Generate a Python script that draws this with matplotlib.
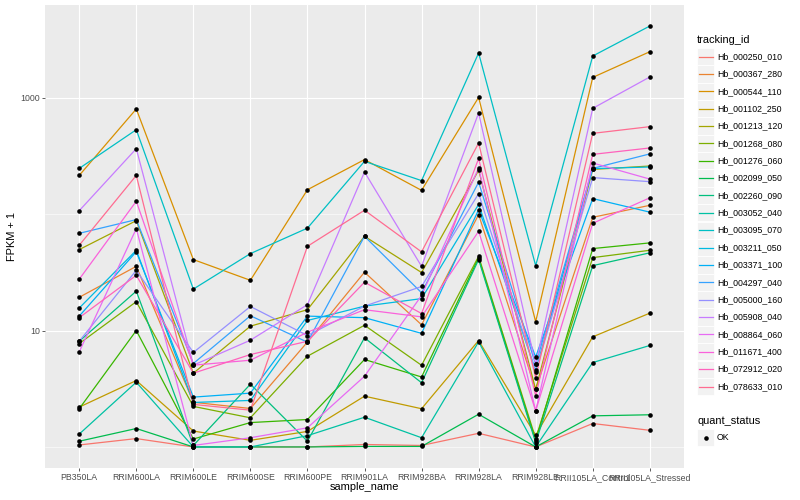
import matplotlib
matplotlib.use('Agg')
import matplotlib.pyplot as plt
from matplotlib.lines import Line2D
from matplotlib.patches import Rectangle
from matplotlib.ticker import NullLocator
import numpy as np

plt.rcParams['font.family'] = ['Liberation Sans', 'DejaVu Sans']

samples = ['PB350LA', 'RRIM600LA', 'RRIM600LE', 'RRIM600SE', 'RRIM600PE',
           'RRIM901LA', 'RRIM928BA', 'RRIM928LA', 'RRIM928LE',
           'RRII105LA_Control', 'RRII105LA_Stressed']

tracking_ids = ['Hb_000250_010', 'Hb_000367_280', 'Hb_000544_110', 'Hb_001102_250',
                'Hb_001213_120', 'Hb_001268_080', 'Hb_001276_060', 'Hb_002099_050',
                'Hb_002260_090', 'Hb_003052_040', 'Hb_003095_070', 'Hb_003211_050',
                'Hb_003371_100', 'Hb_004297_040', 'Hb_005000_160', 'Hb_005908_040',
                'Hb_008864_060', 'Hb_011671_400', 'Hb_072912_020', 'Hb_078633_010']

colors = ['#F8766D', '#EA8331', '#D89000', '#C09B00', '#A3A500', '#7CAE00',
          '#39B600', '#00BB4E', '#00BF7D', '#00C1A3', '#00BFC4', '#00BAE0',
          '#00B0F6', '#35A2FF', '#9590FF', '#C77CFF', '#E76BF3', '#FA62DB',
          '#FF62BC', '#FF6C91']

# FPKM + 1 per sample (order of `samples`)
hb_000250_010 = [1.04, 1.18, 1.0, 1.0, 1.0, 1.05, 1.03, 1.31, 1.0, 1.59, 1.39]
hb_000367_280 = [19.3, 35.6, 2.42, 2.14, 7.97, 31.7, 11.2, 99.0, 3.12, 93.9, 119]
hb_000544_110 = [215, 800, 40.7, 27.0, 162, 294, 160, 1006, 11.9, 1494, 2483]
hb_001102_250 = [2.2, 3.72, 1.37, 1.14, 1.36, 2.73, 2.13, 8.21, 1.26, 8.83, 14.1]
hb_001213_120 = [49.6, 87.9, 4.3, 10.9, 15.1, 64.5, 31.5, 238, 3.12, 242, 259]
hb_001268_080 = [7.73, 17.7, 2.23, 1.78, 6.02, 11.1, 5.03, 43.4, 1.18, 42.3, 48.9]
hb_001276_060 = [2.13, 10.0, 1.17, 1.62, 1.72, 5.64, 3.99, 42.1, 1.13, 50.6, 56.6]
hb_002099_050 = [1.12, 1.44, 1.0, 1.0, 1.0, 1.01, 1.01, 1.91, 1.0, 1.85, 1.89]
hb_002260_090 = [8.09, 21.8, 1.03, 3.46, 1.12, 8.66, 3.56, 40.7, 1.09, 36.1, 46.5]
hb_003052_040 = [1.29, 3.6, 1.0, 1.0, 1.25, 1.8, 1.2, 8.0, 1.0, 5.31, 7.44]
hb_003095_070 = [247, 531, 22.7, 45.8, 75.8, 284, 194, 2420, 36.1, 2280, 4126]
hb_003211_050 = [15.6, 48.9, 2.41, 2.51, 12.2, 16.2, 18.8, 121, 4.54, 246, 254]
hb_003371_100 = [13.3, 47.6, 2.68, 2.90, 13.3, 12.9, 9.46, 109, 5.92, 136, 104]
hb_004297_040 = [68.4, 89.7, 5.21, 13.4, 7.94, 64.5, 21.1, 188, 5.11, 247, 329]
hb_005000_160 = [8.09, 32.9, 6.48, 16.1, 9.06, 16.2, 23.9, 150, 4.42, 206, 190]
hb_005908_040 = [107, 365, 5.04, 8.26, 16.7, 230, 35.6, 739, 5.11, 810, 1506]
hb_008864_060 = [6.56, 75.1, 1.03, 1.20, 1.46, 4.05, 20.0, 249, 2.04, 275, 200]
hb_011671_400 = [27.6, 129, 5.04, 5.56, 9.67, 15.1, 13.1, 71.2, 2.04, 83.4, 138]
hb_072912_020 = [12.9, 29.8, 4.3, 6.22, 8.09, 26.0, 14.0, 301, 2.75, 326, 370]
hb_078633_010 = [54.0, 215, 2.32, 2.07, 52.9, 108, 47.4, 408, 3.93, 494, 564]

series = [hb_000250_010, hb_000367_280, hb_000544_110, hb_001102_250,
          hb_001213_120, hb_001268_080, hb_001276_060, hb_002099_050,
          hb_002260_090, hb_003052_040, hb_003095_070, hb_003211_050,
          hb_003371_100, hb_004297_040, hb_005000_160, hb_005908_040,
          hb_008864_060, hb_011671_400, hb_072912_020, hb_078633_010]

y_ticks = [10, 1000]
y_tick_labels = ['10', '1000']
y_minor = [1, 100]

W, H = 800, 500
fig = plt.figure(figsize=(8, 5), dpi=100)
L, R, T, B = 45, 684, 5, 468
ax = fig.add_axes([L / W, 1 - B / H, (R - L) / W, (B - T) / H])
ax.set_facecolor('#EBEBEB')

x = np.arange(len(samples))
for vals, col in zip(series, colors):
    ax.plot(x, vals, color=col, lw=0.9, zorder=3, solid_capstyle='butt')
for vals in series:
    ax.plot(x, vals, linestyle='none', marker='o', color='black',
            ms=3.3, mec='none', zorder=4)

ax.set_yscale('log')
allv = np.concatenate([np.asarray(s, float) for s in series])
lo, hi = np.log10(allv.min()), np.log10(allv.max())
pad = (hi - lo) * 0.05
ax.set_ylim(10 ** (lo - pad), 10 ** (hi + pad))
ax.set_xlim(-0.6, len(samples) - 1 + 0.6)

ax.set_yticks(y_ticks)
ax.set_yticklabels(y_tick_labels)
ax.yaxis.set_minor_locator(NullLocator())
ax.set_xticks(x)
ax.set_xticklabels(samples)

for v in y_minor:
    ax.axhline(v, color='white', lw=0.4, zorder=1)
for v in y_ticks:
    ax.axhline(v, color='white', lw=0.85, zorder=1)
for xi in x:
    ax.axvline(xi, color='white', lw=0.85, zorder=1)

for s in ax.spines.values():
    s.set_visible(False)
ax.tick_params(axis='both', which='major', length=2.0, width=0.55,
               color='#333333', labelcolor='#4D4D4D', labelsize=6.3, pad=1.6)

fig.text(((L + R) / 2) / W, 1 - 487 / H, 'sample_name', fontsize=7.9,
         ha='center', va='center', color='black')
fig.text(12 / W, 1 - ((T + B) / 2) / H, 'FPKM + 1', fontsize=7.9,
         ha='center', va='center', rotation=90, color='black')

def fx(p):
    return p / W

def fy(p):
    return 1 - p / H

# tracking_id legend
fig.text(fx(697), fy(40), 'tracking_id', fontsize=7.9, ha='left', va='center')
key = 17.28
for i, (name, col) in enumerate(zip(tracking_ids, colors)):
    cy = 56.5 + i * 17.37
    fig.patches.append(Rectangle((fx(697), fy(cy + key / 2)), key / W, key / H,
                                 transform=fig.transFigure, facecolor='#F2F2F2',
                                 edgecolor='white', lw=0.6))
    fig.lines.append(Line2D([fx(698.5), fx(712.8)], [fy(cy), fy(cy)],
                            transform=fig.transFigure, color=col, lw=0.9))
    fig.text(fx(717), fy(cy), name, fontsize=6.3, ha='left', va='center')

# quant_status legend
fig.text(fx(697), fy(421), 'quant_status', fontsize=7.9, ha='left', va='center')
cy = 437.5
fig.patches.append(Rectangle((fx(697), fy(cy + key / 2)), key / W, key / H,
                             transform=fig.transFigure, facecolor='#F2F2F2',
                             edgecolor='white', lw=0.6))
fig.lines.append(Line2D([fx(705.6)], [fy(cy)], transform=fig.transFigure,
                        marker='o', color='black', ms=3.3, mec='none'))
fig.text(fx(717), fy(cy), 'OK', fontsize=6.3, ha='left', va='center')

fig.savefig('out.png', dpi=100)
